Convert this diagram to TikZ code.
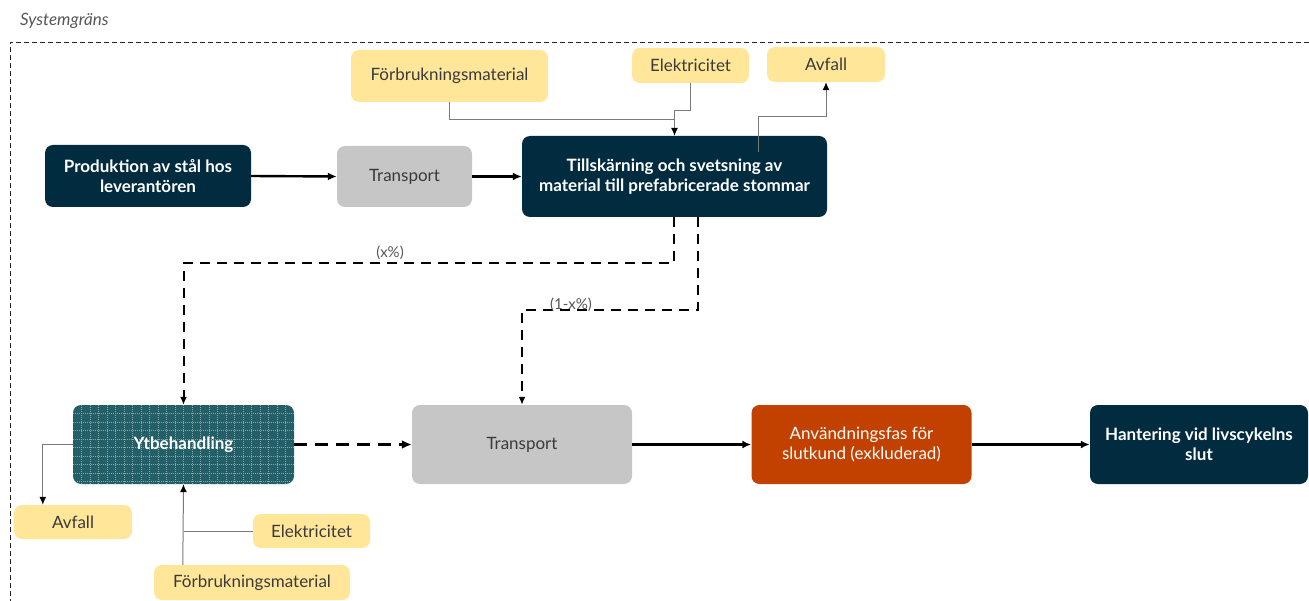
\documentclass[tikz,border=0pt]{standalone}
\usepackage{fontspec}
\setmainfont{Lato}
\usetikzlibrary{arrows.meta,calc}
\definecolor{navy}{HTML}{012B3E}
\definecolor{greybox}{HTML}{C6C6C6}
\definecolor{yell}{HTML}{FFE699}
\definecolor{orng}{HTML}{C24100}
\definecolor{teal}{HTML}{245E66}
\definecolor{gridc}{HTML}{84A8AB}
\definecolor{txtdark}{HTML}{3A3A3A}
\definecolor{linegrey}{HTML}{7A7A7A}
\begin{document}
\begin{tikzpicture}[x=1pt,y=-1pt,
  base/.style={rounded corners=8pt, inner sep=0pt, align=center, font=\fontsize{17}{20}\selectfont},
  navybox/.style={base, fill=navy, text=white, font=\fontsize{17}{20}\selectfont\bfseries},
  greyb/.style={base, fill=greybox, text=txtdark},
  yellb/.style={base, fill=yell, text=txtdark},
  orngb/.style={base, fill=orng, text=white},
  mainarrow/.style={line width=2.4pt, -{Latex[length=9pt,width=8pt]}},
  dasharrow/.style={line width=2pt, dash pattern=on 10pt off 7pt, -{Latex[length=8pt,width=7pt]}},
  thinarrow/.style={draw=linegrey, line width=1pt, -{Latex[length=8pt,width=7pt,color=black]}},
  thinline/.style={draw=linegrey, line width=1pt},
  lbl/.style={text=txtdark!85, font=\fontsize{15}{17}\selectfont, inner sep=1pt}
]
\useasboundingbox (0,0) rectangle (1309,601);

% system boundary
\node[anchor=base west, inner sep=0pt, text=txtdark!85, font=\fontsize{17}{19}\selectfont\itshape] (sys) at (20,26) {Systemgräns};
\coordinate (bTR) at (1309,42);
\coordinate (bTL) at (10,42);
\coordinate (bBL) at (10,601);
\draw[line width=0.9pt, dash pattern=on 5pt off 3pt, draw=black!85] (bTR) -- (bTL) -- (bBL);

% top row
\node[navybox, minimum width=206pt, minimum height=62pt] (prod) at (148,176) {Produktion av stål hos\\leverantören};
\node[greyb, minimum width=135pt, minimum height=61pt] (tr1) at (404.5,176.5) {Transport};
\node[navybox, minimum width=305pt, minimum height=81pt] (till) at (674.5,176.5) {Tillskärning och svetsning av\\material till prefabricerade stommar};

\node[yellb, minimum width=197pt, minimum height=52pt] (fm1) at (449.5,76) {Förbrukningsmaterial};
\node[yellb, minimum width=117pt, minimum height=35pt] (el1) at (690.5,65.5) {Elektricitet};
\node[yellb, minimum width=118pt, minimum height=35pt] (av1) at (826,64.5) {Avfall};

% bottom row
\node[base, fill=teal, text=white, font=\fontsize{17}{20}\selectfont\bfseries, minimum width=221pt, minimum height=79pt,
  path picture={
    \foreach \i in {1,...,26} {\draw[gridc, line width=0.7pt, dash pattern=on 1pt off 1pt] ($(path picture bounding box.north west)+(\i*8.5,0)$) -- ++(0,80);}
    \foreach \j in {1,...,9} {\draw[gridc, line width=0.7pt, dash pattern=on 1pt off 1pt] ($(path picture bounding box.north west)+(0,\j*8.5)$) -- ++(222,0);}
  }] (ytb) at (183.5,444.5) {Ytbehandling};
\node[greyb, minimum width=220pt, minimum height=79pt] (tr2) at (522,444.5) {Transport};
\node[orngb, minimum width=220pt, minimum height=79pt] (anv) at (861.5,444.5) {Användningsfas för\\slutkund (exkluderad)};
\node[navybox, minimum width=218pt, minimum height=79pt] (hant) at (1199,444.5) {Hantering vid livscykelns\\slut};

\node[yellb, minimum width=118pt, minimum height=34pt] (av2) at (73,522) {Avfall};
\node[yellb, minimum width=117pt, minimum height=34pt] (el2) at (311.5,531) {Elektricitet};
\node[yellb, minimum width=196pt, minimum height=35pt] (fm2) at (252,582.5) {Förbrukningsmaterial};

% main flow
\draw[mainarrow] (prod.east) -- (tr1.west);
\draw[mainarrow] (tr1.east) -- (till.west);
\draw[mainarrow] (tr2.east) -- (anv.west);
\draw[mainarrow] (anv.east) -- (hant.west);
\draw[line width=3pt, dash pattern=on 13pt off 8pt, -{Latex[length=10pt,width=9pt]}] (ytb.east) -- (tr2.west);

% inputs / outputs top
\draw[thinline] (fm1.south) |- ($(till.north)+(0,-16)$);
\draw[thinarrow] (el1.south) -- ++(0,27) -| (till.north);
\coordinate (avs) at (758,152);
\draw[thinarrow] (avs) -- (758,117) -| (av1.south);

% split flows
\draw[dasharrow] ($(till.south)+(-0.5,0)$) -- ++(0,46) -| (ytb.north);
\node[lbl, anchor=south] (lbl1) at (390,261) {(x\%)};
\draw[dasharrow] ($(till.south)+(23.5,0)$) -- ++(0,93) -| (tr2.north);
\node[lbl, anchor=south] (lbl2) at (571,313) {(1-x\%)};

% inputs / outputs bottom
\draw[thinarrow] (ytb.west) -| ($(av2.north west)+(29,0)$);
\draw[thinarrow] ($(fm2.north west)+(29,0)$) -- (ytb.south);
\draw[thinline] (el2.west) -- (el2.west -| ytb.south);
\end{tikzpicture}
\end{document}
